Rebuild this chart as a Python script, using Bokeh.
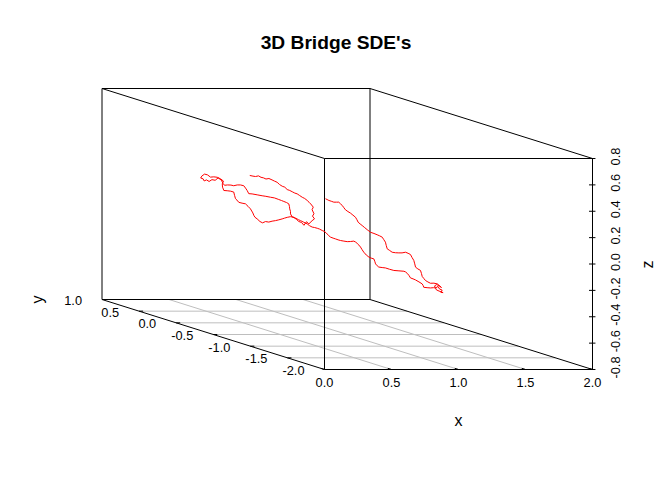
import math
from bokeh.plotting import figure
from bokeh.models import Range1d
from bokeh.core.properties import value
from bokeh.embed import file_html
from bokeh.resources import INLINE

# ---------------- data ----------------
title_text = "3D Bridge SDE's"
x_name, y_name, z_name = "x", "y", "z"

x_ticks = [0.0, 0.5, 1.0, 1.5, 2.0]
x_labels = ["0.0", "0.5", "1.0", "1.5", "2.0"]
y_ticks = [1.0, 0.5, 0.0, -0.5, -1.0, -1.5, -2.0]
y_labels = ["1.0", "0.5", "0.0", "-0.5", "-1.0", "-1.5", "-2.0"]
z_ticks = [-0.8, -0.6, -0.4, -0.2, 0.0, 0.2, 0.4, 0.6, 0.8]
z_labels = ["-0.8", "-0.6", "-0.4", "-0.2", "0.0", "0.2", "0.4", "0.6", "0.8"]

XLIM = (0.0, 2.0)
YLIM = (-2.0, 1.0)
ZLIM = (-0.8, 0.8)

path_x = [
    0.826, 0.850, 0.869, 0.891, 0.910, 0.928, 0.947, 0.969,
    0.937, 0.955, 0.975, 0.993, 1.013, 1.032, 1.050, 1.069,
    1.032, 1.051, 1.069, 1.088, 1.107, 1.125, 1.144, 1.158,
    1.115, 1.134, 1.125, 1.139, 1.128, 1.143, 1.125, 1.101,
    1.028, 1.009, 0.991, 0.970, 0.954, 0.931,
    0.853, 0.829, 0.809, 0.791, 0.766, 0.741, 0.716, 0.691, 0.667,
    0.589, 0.570, 0.549, 0.533, 0.524, 0.517, 0.499, 0.481, 0.462,
    0.381, 0.357, 0.343, 0.332, 0.325, 0.319, 0.295, 0.270, 0.245,
    0.180, 0.178, 0.187, 0.165, 0.140, 0.115, 0.090, 0.068, 0.046, 0.025,
    0.017, 0.035, 0.043, 0.060, 0.080, 0.101, 0.125, 0.147, 0.171, 0.184, 0.195,
    0.272, 0.298, 0.319, 0.345, 0.369, 0.394, 0.407, 0.419, 0.431, 0.456, 0.494, 0.531,
    0.614, 0.649, 0.678, 0.710, 0.731, 0.748, 0.768, 0.785, 0.790, 0.792, 0.798, 0.798,
    0.866, 0.891, 0.913, 0.928, 0.950, 0.978, 0.995, 1.015, 1.032, 1.053, 1.070, 1.090,
    1.048, 1.063, 1.072, 1.084, 1.096, 1.116, 1.134, 1.153, 1.171,
    1.141, 1.166, 1.190, 1.215, 1.228, 1.240, 1.253, 1.265, 1.277,
    1.234, 1.253, 1.272, 1.289, 1.309, 1.316, 1.322, 1.334, 1.346,
    1.316, 1.341, 1.371, 1.403, 1.441, 1.478, 1.490, 1.503, 1.516,
    1.472, 1.491, 1.509, 1.535, 1.559, 1.566, 1.571, 1.596, 1.621, 1.644, 1.659,
    1.622, 1.633, 1.653, 1.643, 1.660, 1.630, 1.610, 1.596, 1.613, 1.631, 1.648, 1.618, 1.591,
    1.510, 1.491, 1.473, 1.461, 1.449, 1.443, 1.436, 1.416, 1.399, 1.393, 1.386, 1.373, 1.361,
    1.288, 1.269, 1.243, 1.219, 1.194, 1.169, 1.151, 1.132, 1.125, 1.119, 1.107, 1.095, 1.076,
    1.002, 0.978, 0.952, 0.940, 0.928, 0.909, 0.890, 0.875, 0.860, 0.851, 0.840, 0.821, 0.803,
    0.728, 0.710, 0.698, 0.686, 0.673, 0.660, 0.642, 0.623, 0.604, 0.586, 0.573, 0.561,
]

path_y = [
    0.5, 0.5, 0.5, 0.5, 0.5, 0.5, 0.5, 0.5,
    0.4, 0.4, 0.4, 0.4, 0.4, 0.4, 0.4, 0.4,
    0.3, 0.3, 0.3, 0.3, 0.3, 0.3, 0.3, 0.3,
    0.2, 0.2, 0.2, 0.2, 0.2, 0.2, 0.2, 0.2,
    0.1, 0.1, 0.1, 0.1, 0.1, 0.1,
    0.0, 0.0, 0.0, 0.0, 0.0, 0.0, 0.0, 0.0, 0.0,
    -0.1, -0.1, -0.1, -0.1, -0.1, -0.1, -0.1, -0.1, -0.1,
    -0.2, -0.2, -0.2, -0.2, -0.2, -0.2, -0.2, -0.2, -0.2,
    -0.3, -0.3, -0.3, -0.3, -0.3, -0.3, -0.3, -0.3, -0.3, -0.3,
    -0.3, -0.3, -0.3, -0.3, -0.3, -0.3, -0.3, -0.3, -0.3, -0.3, -0.3,
    -0.2, -0.2, -0.2, -0.2, -0.2, -0.2, -0.2, -0.2, -0.2, -0.2, -0.2, -0.2,
    -0.1, -0.1, -0.1, -0.1, -0.1, -0.1, -0.1, -0.1, -0.1, -0.1, -0.1, -0.1,
    0.0, 0.0, 0.0, 0.0, 0.0, 0.0, 0.0, 0.0, 0.0, 0.0, 0.0, 0.0,
    -0.1, -0.1, -0.1, -0.1, -0.1, -0.1, -0.1, -0.1, -0.1,
    -0.2, -0.2, -0.2, -0.2, -0.2, -0.2, -0.2, -0.2, -0.2,
    -0.3, -0.3, -0.3, -0.3, -0.3, -0.3, -0.3, -0.3, -0.3,
    -0.4, -0.4, -0.4, -0.4, -0.4, -0.4, -0.4, -0.4, -0.4,
    -0.5, -0.5, -0.5, -0.5, -0.5, -0.5, -0.5, -0.5, -0.5, -0.5, -0.5,
    -0.6, -0.6, -0.6, -0.6, -0.6, -0.6, -0.6, -0.6, -0.6, -0.6, -0.6, -0.6, -0.6,
    -0.7, -0.7, -0.7, -0.7, -0.7, -0.7, -0.7, -0.7, -0.7, -0.7, -0.7, -0.7, -0.7,
    -0.8, -0.8, -0.8, -0.8, -0.8, -0.8, -0.8, -0.8, -0.8, -0.8, -0.8, -0.8, -0.8,
    -0.9, -0.9, -0.9, -0.9, -0.9, -0.9, -0.9, -0.9, -0.9, -0.9, -0.9, -0.9, -0.9,
    -1.0, -1.0, -1.0, -1.0, -1.0, -1.0, -1.0, -1.0, -1.0, -1.0, -1.0, -1.0,
]

path_z = [
    0.229, 0.224, 0.221, 0.226, 0.215, 0.211, 0.202, 0.206,
    0.213, 0.204, 0.195, 0.178, 0.165, 0.158, 0.140, 0.133,
    0.141, 0.131, 0.125, 0.112, 0.099, 0.090, 0.075, 0.061,
    0.066, 0.042, 0.023, -0.008, -0.026, -0.047, -0.061, -0.085,
    -0.051, -0.078, -0.057, -0.049, -0.034, -0.016,
    0.005, 0.000, -0.006, -0.012, -0.019, -0.025, -0.029, -0.036, -0.032,
    -0.024, -0.014, 0.006, 0.018, 0.033, 0.051, 0.082, 0.101, 0.120,
    0.143, 0.149, 0.166, 0.177, 0.202, 0.227, 0.234, 0.237, 0.239,
    0.282, 0.307, 0.328, 0.345, 0.357, 0.360, 0.358, 0.375, 0.381, 0.366,
    0.351, 0.345, 0.329, 0.337, 0.325, 0.339, 0.334, 0.352, 0.335, 0.310, 0.296,
    0.281, 0.280, 0.275, 0.281, 0.281, 0.275, 0.257, 0.239, 0.215, 0.213, 0.206, 0.199,
    0.177, 0.170, 0.165, 0.153, 0.145, 0.138, 0.130, 0.120, 0.100, 0.082, 0.062, 0.044,
    0.002, -0.006, -0.018, -0.025, -0.036, -0.050, -0.063, -0.074, -0.077, -0.083, -0.089, -0.100,
    -0.088, -0.099, -0.109, -0.122, -0.132, -0.140, -0.146, -0.153, -0.158,
    -0.145, -0.149, -0.148, -0.145, -0.152, -0.162, -0.175, -0.190, -0.210,
    -0.211, -0.233, -0.248, -0.256, -0.262, -0.280, -0.300, -0.314, -0.324,
    -0.310, -0.313, -0.323, -0.332, -0.335, -0.338, -0.343, -0.354, -0.370,
    -0.371, -0.378, -0.386, -0.401, -0.416, -0.428, -0.442, -0.445, -0.447, -0.445, -0.447,
    -0.418, -0.437, -0.446, -0.462, -0.465, -0.453, -0.444, -0.414, -0.403, -0.415, -0.426, -0.399, -0.393,
    -0.376, -0.366, -0.355, -0.340, -0.325, -0.302, -0.279, -0.267, -0.254, -0.229, -0.203, -0.181, -0.158,
    -0.131, -0.123, -0.128, -0.128, -0.127, -0.123, -0.110, -0.097, -0.072, -0.047, -0.028, -0.009, 0.001,
    0.027, 0.037, 0.046, 0.056, 0.065, 0.081, 0.097, 0.109, 0.122, 0.141, 0.160, 0.176, 0.191,
    0.221, 0.234, 0.250, 0.267, 0.279, 0.292, 0.292, 0.292, 0.299, 0.305, 0.312, 0.318,
]

assert len(path_x) == len(path_y) == len(path_z)

# ---------------- 3D box projection (screen layout) ----------------
ORIGIN_X, ORIGIN_Y = 324.0, 369.0      # screen position of (xmin, ymin, zmin)
SX, SZ = 134.0, 131.875                # pixels per unit of x and z
DEPTH_X, DEPTH_Y = 222.5, 70.0         # screen shift of the full y depth


def proj(x, y, z):
    d = (y - YLIM[0]) / (YLIM[1] - YLIM[0])
    return (ORIGIN_X + SX * (x - XLIM[0]) - DEPTH_X * d,
            ORIGIN_Y - SZ * (z - ZLIM[0]) - DEPTH_Y * d)


W, H = 656, 463
p = figure(width=W, height=H, x_range=Range1d(0, W), y_range=Range1d(H, 0),
           output_backend="svg", toolbar_location=None, min_border=0,
           x_axis_type=None, y_axis_type=None)
p.grid.visible = False
p.outline_line_color = None
p.background_fill_color = "white"
p.border_fill_color = "white"

FONT = value("Liberation Sans")
TXT_SHIFT = 0.38   # correction of text placement (text's own "down" direction), in em

# floor grid
gx0, gy0, gx1, gy1 = [], [], [], []
for yt in y_ticks:
    if YLIM[0] < yt < YLIM[1]:
        a = proj(XLIM[0], yt, ZLIM[0]); b = proj(XLIM[1], yt, ZLIM[0])
        gx0.append(a[0]); gy0.append(a[1]); gx1.append(b[0]); gy1.append(b[1])
for xt in x_ticks:
    if XLIM[0] < xt < XLIM[1]:
        a = proj(xt, YLIM[0], ZLIM[0]); b = proj(xt, YLIM[1], ZLIM[0])
        gx0.append(a[0]); gy0.append(a[1]); gx1.append(b[0]); gy1.append(b[1])
p.segment(gx0, gy0, gx1, gy1, line_color="#BEBEBE", line_width=1)

# box edges
corners = {}
for i, xx in enumerate(XLIM):
    for j, yy in enumerate(YLIM):
        for k, zz in enumerate(ZLIM):
            corners[(i, j, k)] = proj(xx, yy, zz)
edges = []
for key in corners:
    for axis in range(3):
        if key[axis] == 0:
            other = list(key); other[axis] = 1
            edges.append((corners[key], corners[tuple(other)]))
p.segment([e[0][0] for e in edges], [e[0][1] for e in edges],
          [e[1][0] for e in edges], [e[1][1] for e in edges],
          line_color="black", line_width=1)

# tick marks
tx0, ty0, tx1, ty1 = [], [], [], []
for xt in x_ticks:
    a = proj(xt, YLIM[0], ZLIM[0]); b = proj(xt, YLIM[0] + 0.05, ZLIM[0])
    tx0.append(a[0]); ty0.append(a[1]); tx1.append(b[0]); ty1.append(b[1])
for yt in y_ticks:
    if YLIM[0] < yt < YLIM[1]:
        a = proj(XLIM[0], yt, ZLIM[0]); b = proj(XLIM[0] + 0.03, yt, ZLIM[0])
        tx0.append(a[0]); ty0.append(a[1]); tx1.append(b[0]); ty1.append(b[1])
for zt in z_ticks:
    a = proj(XLIM[1] - 0.026, YLIM[0], zt); b = proj(XLIM[1] + 0.022, YLIM[0], zt)
    tx0.append(a[0]); ty0.append(a[1]); tx1.append(b[0]); ty1.append(b[1])
p.segment(tx0, ty0, tx1, ty1, line_color="black", line_width=1)

# the SDE path
pts = [proj(a, b, c) for a, b, c in zip(path_x, path_y, path_z)]
p.line([q[0] for q in pts], [q[1] for q in pts], line_color="#FF0000", line_width=1)

# tick labels
TICK_FS = 12.8
xl = [proj(v, YLIM[0], ZLIM[0]) for v in x_ticks]
p.text([q[0] for q in xl], [q[1] + 18 - TXT_SHIFT * TICK_FS for q in xl], text=x_labels,
       text_font=FONT, text_font_size=value(f"{TICK_FS}px"), text_color="black",
       text_align="center", text_baseline="alphabetic")

yl = [proj(XLIM[0], v, ZLIM[0]) for v in y_ticks]
p.text([q[0] - 20 for q in yl], [q[1] + 6 - TXT_SHIFT * TICK_FS for q in yl], text=y_labels,
       text_font=FONT, text_font_size=value(f"{TICK_FS}px"), text_color="black",
       text_align="right", text_baseline="alphabetic")

zl = [proj(XLIM[1], YLIM[0], v) for v in z_ticks]
p.text([q[0] + 27.5 - TXT_SHIFT * TICK_FS for q in zl], [q[1] - 2 for q in zl], text=z_labels,
       angle=math.pi / 2,
       text_font=FONT, text_font_size=value(f"{TICK_FS}px"), text_color="black",
       text_align="center", text_baseline="alphabetic")

# axis names
LAB_FS = 16
p.text([458], [426 - TXT_SHIFT * LAB_FS], text=[x_name], text_font=FONT,
       text_font_size=value(f"{LAB_FS}px"),
       text_color="black", text_align="center", text_baseline="alphabetic")
p.text([43.5 - TXT_SHIFT * LAB_FS], [299], text=[y_name], angle=math.pi / 2, text_font=FONT,
       text_font_size=value(f"{LAB_FS}px"), text_color="black",
       text_align="center", text_baseline="alphabetic")
p.text([653 - TXT_SHIFT * LAB_FS], [264], text=[z_name], angle=math.pi / 2, text_font=FONT,
       text_font_size=value(f"{LAB_FS}px"), text_color="black",
       text_align="center", text_baseline="alphabetic")

# title
TITLE_FS = 19.2
p.text([335.5], [49 - TXT_SHIFT * TITLE_FS], text=[title_text], text_font=FONT,
       text_font_size=value(f"{TITLE_FS}px"), text_font_style="bold", text_color="black",
       text_align="center", text_baseline="alphabetic")

open("out.html", "w").write(file_html(p, INLINE))
